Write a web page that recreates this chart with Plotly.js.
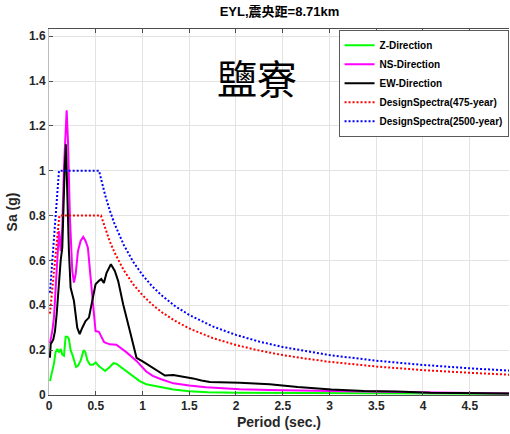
<!DOCTYPE html>
<html>
<head>
<meta charset="utf-8">
<script src="https://cdn.plot.ly/plotly-3.0.1.min.js"></script>
<style>html,body{margin:0;padding:0;background:#fff;}#chart{width:510px;height:434px;}</style>
</head>
<body>
<div id="chart"></div>
<script>
// ---- data ----
var zPeriod = [0.01,0.035,0.053,0.07,0.089,0.107,0.125,0.142,0.16,0.178,0.196,0.213,0.231,0.25,0.27,0.29,0.31,0.34,0.37,0.39,0.41,0.44,0.47,0.5,0.53,0.56,0.6,0.65,0.69,0.72,0.76,0.83,0.9,0.97,1.04,1.13,1.2,1.33,1.5,1.7,2.0,2.5,3.0,3.5,4.0,4.5,4.95];
var zSa     = [0.062,0.11,0.14,0.19,0.205,0.19,0.205,0.18,0.175,0.26,0.26,0.25,0.2,0.18,0.155,0.125,0.13,0.155,0.2,0.19,0.155,0.135,0.135,0.145,0.13,0.12,0.107,0.125,0.142,0.14,0.128,0.107,0.085,0.062,0.048,0.04,0.035,0.025,0.017,0.012,0.01,0.009,0.008,0.007,0.006,0.005,0.005];

var nsPeriod = [0.01,0.035,0.053,0.071,0.089,0.107,0.125,0.142,0.16,0.178,0.189,0.203,0.224,0.249,0.267,0.285,0.31,0.338,0.366,0.391,0.416,0.445,0.473,0.498,0.534,0.559,0.59,0.65,0.72,0.83,0.936,1.04,1.11,1.2,1.33,1.5,1.68,2.04,2.36,3.0,3.7,4.3,4.95];
var nsSa     = [0.23,0.285,0.345,0.479,0.612,0.731,0.642,0.746,1.014,1.192,1.27,1.133,0.791,0.553,0.501,0.538,0.642,0.687,0.705,0.687,0.657,0.523,0.389,0.285,0.282,0.26,0.235,0.226,0.224,0.19,0.152,0.105,0.085,0.07,0.052,0.042,0.035,0.026,0.022,0.018,0.013,0.009,0.006];

var ewPeriod = [0.01,0.018,0.046,0.064,0.082,0.096,0.117,0.125,0.142,0.153,0.167,0.181,0.196,0.213,0.231,0.267,0.302,0.328,0.356,0.391,0.427,0.462,0.498,0.534,0.559,0.587,0.616,0.662,0.704,0.74,0.793,0.865,0.936,1.006,1.113,1.185,1.24,1.33,1.47,1.54,1.63,1.72,2.04,2.36,2.66,3.02,3.37,3.72,4.08,4.5,4.95];
var ewSa     = [0.166,0.226,0.248,0.285,0.36,0.449,0.583,0.6,0.657,0.865,0.999,1.118,0.865,0.642,0.479,0.419,0.3,0.271,0.3,0.33,0.345,0.419,0.494,0.509,0.517,0.5,0.545,0.583,0.553,0.508,0.405,0.285,0.166,0.149,0.122,0.1,0.087,0.089,0.08,0.074,0.065,0.058,0.055,0.048,0.036,0.025,0.018,0.016,0.01,0.008,0.006];

var dsPeriod = [0.01,0.111,0.556,0.6,0.65,0.7,0.8,0.9,1.0,1.1,1.2,1.35,1.5,1.75,2.0,2.25,2.5,2.75,3.0,3.5,4.0,4.5,5.0];
var ds475    = [0.363,0.8,0.8,0.742,0.685,0.636,0.556,0.494,0.445,0.405,0.371,0.33,0.297,0.254,0.223,0.198,0.178,0.162,0.148,0.127,0.111,0.099,0.089];

var ds2500Period = [0.01,0.107,0.535,0.6,0.65,0.7,0.8,0.9,1.0,1.1,1.2,1.35,1.5,1.75,2.0,2.25,2.5,2.75,3.0,3.5,4.0,4.5,5.0];
var ds2500   = [0.456,1.0,1.0,0.892,0.823,0.764,0.669,0.594,0.535,0.486,0.446,0.396,0.357,0.306,0.268,0.238,0.214,0.195,0.178,0.153,0.134,0.119,0.107];

var seriesNames = ['Z-Direction','NS-Direction','EW-Direction','DesignSpectra(475-year)','DesignSpectra(2500-year)'];
var xTickVals = [0,0.5,1,1.5,2,2.5,3,3.5,4,4.5];
var xTickText = ['0','0.5','1','1.5','2','2.5','3','3.5','4','4.5'];
var yTickVals = [0,0.2,0.4,0.6,0.8,1,1.2,1.4,1.6];
var yTickText = ['0','0.2','0.4','0.6','0.8','1','1.2','1.4','1.6'];
var titleText = 'EYL,震央距=8.71km';
var stationText = '鹽寮';

var font = 'Liberation Sans, Arial, Noto Sans CJK TC, sans-serif';

var traces = [
  {x: zPeriod, y: zSa, name: seriesNames[0], mode: 'lines', line: {color: '#00ff00', width: 2}},
  {x: nsPeriod, y: nsSa, name: seriesNames[1], mode: 'lines', line: {color: '#ff00ff', width: 2}},
  {x: ewPeriod, y: ewSa, name: seriesNames[2], mode: 'lines', line: {color: '#000000', width: 2}},
  {x: dsPeriod, y: ds475, name: seriesNames[3], mode: 'lines', line: {color: '#ff0000', width: 2, dash: '2px,2px'}},
  {x: ds2500Period, y: ds2500, name: seriesNames[4], mode: 'lines', line: {color: '#0000ff', width: 2, dash: '2px,2px'}}
];

var layout = {
  width: 510, height: 434,
  margin: {l: 49, r: 1, t: 29, b: 39, autoexpand: false},
  paper_bgcolor: '#ffffff', plot_bgcolor: '#ffffff',
  font: {family: font, size: 12, color: '#262626'},
  title: {text: '<b>' + titleText + '</b>', x: 0.548, xanchor: 'center', y: 0.985, yanchor: 'top', font: {family: font, size: 13, color: '#000'}},
  xaxis: {
    range: [0, 4.92], tickvals: xTickVals, ticktext: xTickText,
    showgrid: true, gridcolor: '#e3e3e3', gridwidth: 1,
    zeroline: false, showline: true, linecolor: '#4d4d4d', linewidth: 1,
    ticks: 'inside', ticklen: 4, tickcolor: '#4d4d4d', mirror: 'ticks',
    tickfont: {family: font, size: 12, color: '#262626', weight: 'bold'},
    title: {text: '<b>Period (sec.)</b>', standoff: 4, font: {family: font, size: 14, color: '#262626'}}
  },
  yaxis: {
    range: [0, 1.632], tickvals: yTickVals, ticktext: yTickText,
    showgrid: true, gridcolor: '#e3e3e3', gridwidth: 1,
    zeroline: false, showline: true, linecolor: '#bdbdbd', linewidth: 1,
    ticks: 'inside', ticklen: 4, tickcolor: '#4d4d4d',
    tickfont: {family: font, size: 12, color: '#262626', weight: 'bold'},
    title: {text: '<b>Sa (g)</b>', standoff: 8, font: {family: font, size: 14, color: '#262626'}}
  },
  legend: {
    x: 0.999, xanchor: 'right', y: 0.998, yanchor: 'top',
    bgcolor: '#ffffff', bordercolor: '#5a5a5a', borderwidth: 1,
    font: {family: font, size: 10, color: '#000', weight: 'bold'},
    tracegroupgap: 0, itemwidth: 30
  },
  showlegend: true,
  annotations: [{
    x: 2.22, y: 1.42, xref: 'x', yref: 'y', text: stationText, showarrow: false,
    font: {family: 'Noto Sans CJK TC, serif', size: 40, color: '#000'}
  }]
};

Plotly.newPlot('chart', traces, layout, {displayModeBar: false, staticPlot: true});
</script>
</body>
</html>
